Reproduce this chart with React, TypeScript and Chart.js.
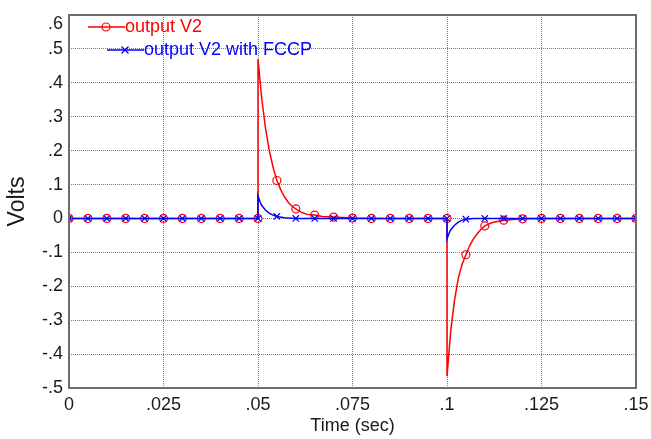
import React, { useEffect, useRef } from 'react';
import { Chart, registerables } from 'chart.js';

Chart.register(...registerables);

const seriesNames = ['output V2', 'output V2 with FCCP'];

const redTime = [
  0, 0.005, 0.01, 0.015, 0.02, 0.025, 0.03, 0.035, 0.04, 0.045,
  0.05, 0.05, 0.051, 0.052, 0.053, 0.054, 0.055, 0.056, 0.057, 0.058, 0.059, 0.06, 0.061, 0.062, 0.063, 0.065, 0.067, 0.07, 0.075,
  0.08, 0.085, 0.09, 0.095,
  0.1, 0.1, 0.101, 0.102, 0.103, 0.104, 0.105, 0.106, 0.107, 0.108, 0.109, 0.11, 0.112, 0.115, 0.12,
  0.125, 0.13, 0.135, 0.14, 0.145, 0.15,
];
const redVolts = [
  0, 0, 0, 0, 0, 0, 0, 0, 0, 0,
  0, 0.47, 0.353, 0.265, 0.2, 0.15, 0.112, 0.085, 0.064, 0.048, 0.036, 0.028, 0.021, 0.016, 0.012, 0.01, 0.006, 0.004, 0.001,
  0, 0, 0, 0,
  0, -0.465, -0.33, -0.24, -0.175, -0.135, -0.107, -0.08, -0.06, -0.045, -0.032, -0.022, -0.012, -0.005, -0.001,
  0, 0, 0, 0, 0, 0,
];

const blueTime = [
  0, 0.005, 0.01, 0.015, 0.02, 0.025, 0.03, 0.035, 0.04, 0.045,
  0.05, 0.05, 0.0505, 0.051, 0.052, 0.053, 0.054, 0.055, 0.057, 0.06,
  0.065, 0.07, 0.075, 0.08, 0.085, 0.09, 0.095,
  0.1, 0.1, 0.1005, 0.101, 0.102, 0.103, 0.104, 0.105, 0.107, 0.11,
  0.115, 0.12, 0.125, 0.13, 0.135, 0.14, 0.145, 0.15,
];
const blueVolts = [
  0, 0, 0, 0, 0, 0, 0, 0, 0, 0,
  0, 0.067, 0.05, 0.038, 0.024, 0.015, 0.01, 0.006, 0.002, 0,
  0, 0, 0, 0, 0, 0, 0,
  0, -0.06, -0.045, -0.033, -0.02, -0.011, -0.005, -0.002, 0, 0,
  0, 0, 0, 0, 0, 0, 0, 0,
];

const xTickValues = [0, 0.025, 0.05, 0.075, 0.1, 0.125, 0.15];
const xTickLabels = ['0', '.025', '.05', '.075', '.1', '.125', '.15'];
const yTickValues = [-0.5, -0.4, -0.3, -0.2, -0.1, 0, 0.1, 0.2, 0.3, 0.4, 0.5, 0.6];
const yTickLabels = ['-.5', '-.4', '-.3', '-.2', '-.1', '0', '.1', '.2', '.3', '.4', '.5', '.6'];

const FONT = 'Arial, "Liberation Sans", sans-serif';
const RED = '#ff0000';
const BLUE = '#0000ff';

function markerFlags(times: number[]) {
  return times.map((t, i) => {
    const k = t * 200;
    const onGrid = Math.abs(k - Math.round(k)) < 1e-6;
    const dup = i > 0 && times[i - 1] === t;
    return onGrid && !dup;
  });
}

const framePlugin = {
  id: 'framePlugin',
  afterDraw(chart: any) {
    const { ctx, chartArea } = chart;
    const { left, top, right, bottom } = chartArea;
    ctx.save();
    ctx.strokeStyle = '#6d6d6d';
    ctx.lineWidth = 2;
    ctx.strokeRect(left, top, right - left, bottom - top);
    ctx.fillStyle = '#1a1a1a';
    ctx.font = `18px ${FONT}`;
    ctx.textAlign = 'right';
    ctx.textBaseline = 'middle';
    ctx.fillText(yTickLabels[yTickLabels.length - 1], left - 6, top + 9);
    const items = [
      { color: RED, style: 'circle', y: top + 12, x0: left + 19 },
      { color: BLUE, style: 'cross', y: top + 35, x0: left + 38 },
    ];
    items.forEach((it, i) => {
      ctx.strokeStyle = it.color;
      ctx.lineWidth = 1.5;
      ctx.beginPath();
      ctx.moveTo(it.x0, it.y);
      ctx.lineTo(it.x0 + 37, it.y);
      ctx.stroke();
      const mx = it.x0 + 18;
      ctx.lineWidth = 1.2;
      ctx.beginPath();
      if (it.style === 'circle') {
        ctx.arc(mx, it.y, 4, 0, Math.PI * 2);
      } else {
        ctx.moveTo(mx - 3.5, it.y - 3.5);
        ctx.lineTo(mx + 3.5, it.y + 3.5);
        ctx.moveTo(mx - 3.5, it.y + 3.5);
        ctx.lineTo(mx + 3.5, it.y - 3.5);
      }
      ctx.stroke();
      ctx.fillStyle = it.color;
      ctx.textAlign = 'left';
      ctx.textBaseline = 'middle';
      ctx.font = `18px ${FONT}`;
      ctx.fillText(seriesNames[i], it.x0 + 37, it.y);
    });
    ctx.restore();
  },
};

export default function App() {
  const ref = useRef<HTMLCanvasElement>(null);

  useEffect(() => {
    document.body.style.margin = '0';
    const canvas = ref.current;
    if (!canvas) return;
    const redFlags = markerFlags(redTime);
    const blueFlags = markerFlags(blueTime);
    const chart = new Chart(canvas, {
      type: 'line',
      data: {
        datasets: [
          {
            label: seriesNames[1],
            data: blueTime.map((t, i) => ({ x: t, y: blueVolts[i] })),
            borderColor: BLUE,
            backgroundColor: 'transparent',
            borderWidth: 1.5,
            tension: 0,
            pointStyle: 'crossRot',
            pointRadius: (c: any) => (blueFlags[c.dataIndex] ? 4.5 : 0),
            pointBorderColor: BLUE,
            pointBorderWidth: 1.2,
            pointBackgroundColor: 'transparent',
          },
          {
            label: seriesNames[0],
            data: redTime.map((t, i) => ({ x: t, y: redVolts[i] })),
            borderColor: RED,
            backgroundColor: 'transparent',
            borderWidth: 1.5,
            tension: 0,
            pointStyle: 'circle',
            pointRadius: (c: any) => (redFlags[c.dataIndex] ? 4 : 0),
            pointBorderColor: RED,
            pointBorderWidth: 1.2,
            pointBackgroundColor: 'transparent',
          },
        ],
      },
      options: {
        responsive: false,
        animation: false,
        events: [],
        layout: { padding: { top: 15, right: 15, left: 0, bottom: 0 } },
        plugins: { legend: { display: false }, tooltip: { enabled: false } },
        scales: {
          x: {
            type: 'linear',
            min: 0,
            max: 0.15,
            afterBuildTicks: (s: any) => {
              s.ticks = xTickValues.map((v) => ({ value: v }));
            },
            afterFit: (s: any) => {
              s.height = 51;
              s.paddingLeft = 0;
              s.paddingRight = 0;
            },
            ticks: {
              autoSkip: false,
              maxRotation: 0,
              padding: 6,
              color: '#1a1a1a',
              font: { family: FONT, size: 18 },
              callback: (v: any) => {
                const i = xTickValues.findIndex((t) => Math.abs(t - v) < 1e-9);
                return i >= 0 ? xTickLabels[i] : '';
              },
            },
            grid: { color: '#7a7a7a', lineWidth: 1, drawTicks: false },
            border: { display: false, dash: [1, 1] },
            title: {
              display: true,
              text: 'Time (sec)',
              color: '#1a1a1a',
              font: { family: FONT, size: 18 },
              padding: { top: 0, bottom: 2 },
            },
          },
          y: {
            type: 'linear',
            min: -0.5,
            max: 0.6,
            afterBuildTicks: (s: any) => {
              s.ticks = yTickValues.map((v) => ({ value: v }));
            },
            afterFit: (s: any) => {
              s.width = 69;
              s.paddingTop = 0;
              s.paddingBottom = 0;
            },
            ticks: {
              autoSkip: false,
              padding: 6,
              color: '#1a1a1a',
              font: { family: FONT, size: 18 },
              callback: (v: any) => {
                const i = yTickValues.findIndex((t) => Math.abs(t - v) < 1e-9);
                if (i === yTickValues.length - 1) return '';
                return i >= 0 ? yTickLabels[i] : '';
              },
            },
            grid: { color: '#7a7a7a', lineWidth: 1, drawTicks: false },
            border: { display: false, dash: [1, 1] },
            title: {
              display: true,
              text: 'Volts',
              color: '#1a1a1a',
              font: { family: FONT, size: 23 },
              padding: { top: 4, bottom: 0 },
            },
          },
        },
      },
      plugins: [framePlugin],
    } as any);
    return () => chart.destroy();
  }, []);

  return (
    <div style={{ width: 651, height: 439, position: 'relative', background: '#fff' }}>
      <canvas ref={ref} width={651} height={439} style={{ display: 'block' }} />
    </div>
  );
}
